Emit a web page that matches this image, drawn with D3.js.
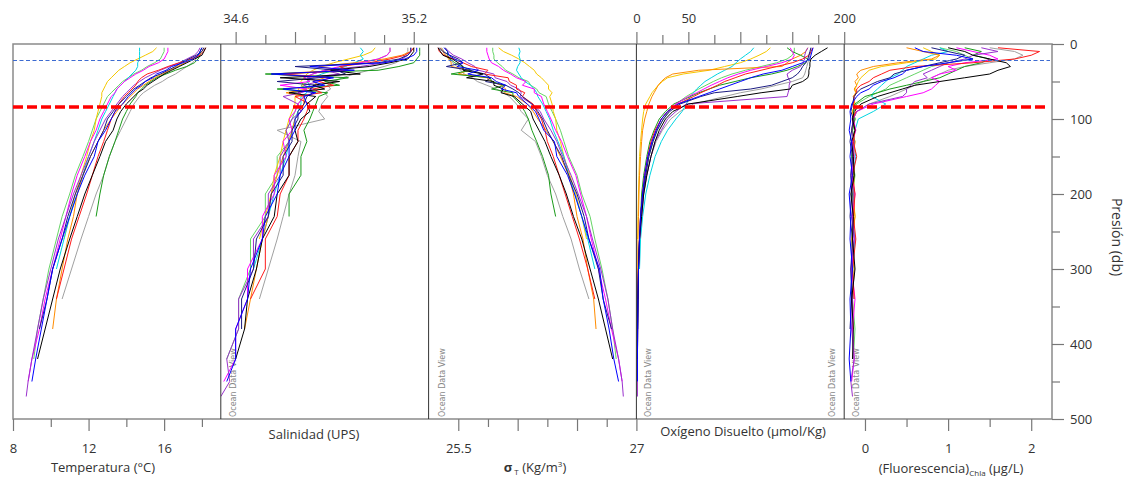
<!DOCTYPE html>
<html><head><meta charset="utf-8">
<script src="https://cdn.jsdelivr.net/npm/d3@7"></script>
<style>
body{margin:0;background:#fff;}
svg text{font-family:"Open Sans",sans-serif;fill:#333;}
</style></head><body>
<svg id="chart" width="1129" height="477"></svg>
<script>
// ---------------- DATA ----------------
const pressureLevels = [5,10,15,20,25,30,35,40,45,50,55,60,65,70,80,90,100,115,130,150,175,200,230,260,300,340,380,420,450,470];
const stations = ["black","blue","navy","red","green","magenta","purple","cyan","yellow","gray","lightgreen","orange"];

const temperature = [
 [18.2,18.1,18.0,17.6,17.2,16.8,16.4,16.0,15.7,15.4,15.1,14.9,14.6,14.4,14.0,13.7,13.5,13.3,12.9,12.6,12.2,11.8,11.4,11.0,10.5,10.1,9.7,9.3],
 [18.0,17.9,17.8,17.5,17.0,16.4,16.1,15.6,15.4,15.0,14.8,14.5,14.3,14.1,13.8,13.4,13.2,12.9,12.5,12.3,11.8,11.4,11.0,10.6,10.1,9.8,9.5,9.2,9.0],
 [18.1,18.0,17.7,17.3,16.9,16.6,16.2,15.8,15.3,15.0,14.7,14.4,14.2,14.0,13.6,13.3,13.0,12.8,12.5,12.1,11.7,11.3,10.9,10.6,10.1,9.8,9.4],
 [18.2,18.1,17.9,17.4,16.8,16.2,15.7,15.1,14.8,14.6,14.5,14.3,14.1,13.9,13.6,13.4,13.2,13.0,12.8,12.5,12.2,11.9,11.5,11.1,10.7,10.3],
 [18.0,17.9,17.9,17.8,17.6,17.2,16.6,16.1,15.6,15.3,15.0,14.8,14.6,14.5,14.2,14.0,13.8,13.6,13.4,13.1,12.8,12.6,12.4],
 [16.2,16.2,16.1,16.0,15.7,15.2,14.9,14.5,14.2,13.9,13.7,13.5,13.4,13.2,13.0,12.8,12.6,12.4,12.1,11.8,11.4,11.1,10.8,10.5,10.1,9.7,9.4,9.0,8.8],
 [17.9,17.8,17.6,17.2,16.8,16.3,15.8,15.4,15.0,14.7,14.4,14.2,14.0,13.8,13.5,13.2,12.9,12.6,12.3,12.0,11.6,11.2,10.8,10.4,10.0,9.6,9.3,9.0,8.8,8.7],
 [14.7,14.7,14.7,14.7,14.6,14.6,14.5,14.3,14.1,13.9,13.7,13.5,13.4,13.3,13.1,12.9,12.7,12.5,12.3,12.0,11.7,11.4,11.0,10.7,10.3],
 [15.6,15.4,15.0,14.6,14.2,13.9,13.6,13.4,13.2,13.0,12.9,12.8,12.7,12.7,12.6,12.5,12.4,12.3,12.1,11.9,11.6,11.3,11.0,10.7],
 [18.0,17.9,17.8,17.7,17.5,17.2,16.9,16.6,16.2,15.9,15.5,15.2,14.9,14.7,14.4,14.2,14.0,13.7,13.4,13.1,12.8,12.4,12.0,11.6,11.1,10.6],
 [16.0,16.0,15.9,15.8,15.5,15.1,14.8,14.4,14.1,13.8,13.6,13.4,13.2,13.0,12.8,12.6,12.4,12.2,12.0,11.7,11.3,11.0,10.6,10.3,9.9,9.6,9.3,9.1],
 [18.1,18.0,17.8,17.5,17.1,16.7,16.3,15.9,15.5,15.2,14.9,14.6,14.4,14.2,13.8,13.5,13.2,12.8,12.5,12.1,11.7,11.4,11.2,10.9,10.6,10.3,10.1]
];
const salinity = [
 [35.20,35.20,35.19,35.18,35.12,35.05,34.92,35.02,34.75,34.95,34.86,34.90,34.78,34.87,34.84,34.85,34.82,34.80,34.81,34.78,34.78,34.74,34.73,34.69,34.67,34.64,34.63,34.60],
 [35.21,35.21,35.20,35.17,35.10,34.85,35.00,34.72,34.93,34.86,34.90,34.76,34.87,34.83,34.84,34.82,34.80,34.80,34.78,34.78,34.75,34.74,34.70,34.69,34.65,34.64,34.60,34.60,34.57],
 [35.19,35.19,35.18,35.15,35.08,34.80,34.94,34.97,34.88,34.74,34.87,34.85,34.86,34.84,34.83,34.81,34.81,34.79,34.79,34.76,34.76,34.72,34.71,34.67,34.66,34.62,34.62],
 [35.20,35.19,35.17,35.12,35.05,34.95,34.98,34.76,34.92,34.88,34.93,34.86,34.89,34.80,34.85,34.84,34.83,34.81,34.81,34.78,34.78,34.75,34.74,34.70,34.70,34.65],
 [35.22,35.22,35.22,35.21,35.20,35.15,35.08,34.70,34.98,34.90,34.95,34.74,34.91,34.88,34.87,34.86,34.85,34.83,34.84,34.82,34.82,34.78,34.78],
 [35.12,35.12,35.11,35.08,35.02,34.95,34.90,34.86,34.83,34.85,34.75,34.84,34.81,34.83,34.81,34.80,34.78,34.79,34.76,34.77,34.73,34.73,34.69,34.69,34.64,34.64,34.60,34.60,34.56],
 [35.19,35.19,35.18,35.16,35.10,35.02,34.90,34.95,34.84,34.88,34.83,34.86,34.82,34.76,34.81,34.82,34.79,34.77,34.78,34.75,34.75,34.71,34.71,34.66,34.66,34.61,34.61,34.57,34.58,34.55],
 [35.02,35.03,35.02,35.03,35.00,34.97,34.93,34.89,34.86,34.84,34.85,34.83,34.84,34.82,34.82,34.81,34.80,34.79,34.78,34.77,34.75,34.73,34.71,34.69,34.66],
 [35.07,35.06,35.03,34.98,34.93,34.89,34.86,34.84,34.83,34.82,34.83,34.81,34.82,34.80,34.80,34.79,34.78,34.77,34.76,34.75,34.73,34.72,34.70,34.68],
 [35.18,35.18,35.17,35.16,35.14,35.10,35.05,35.00,34.96,34.93,34.91,34.92,34.90,34.91,34.89,34.88,34.90,34.74,34.82,34.81,34.80,34.78,34.76,34.74,34.71,34.68],
 [35.12,35.12,35.11,35.08,35.02,34.96,34.90,34.86,34.83,34.85,34.82,34.84,34.81,34.83,34.81,34.80,34.79,34.77,34.78,34.74,34.74,34.70,34.70,34.65,34.65,34.61,34.61,34.57],
 [35.20,35.19,35.16,35.10,35.00,34.88,34.96,34.72,34.90,34.86,34.88,34.84,34.77,34.83,34.83,34.82,34.80,34.79,34.78,34.76,34.74,34.72,34.71,34.69,34.67,34.65,34.63]
];
const sigmaT = [
 [25.33,25.35,25.37,25.45,25.50,25.54,25.54,25.71,25.57,25.80,25.80,25.88,25.86,25.97,26.04,26.11,26.13,26.18,26.23,26.28,26.35,26.41,26.47,26.54,26.61,26.68,26.74,26.80],
 [25.38,25.41,25.42,25.47,25.54,25.49,25.67,25.58,25.78,25.82,25.90,25.86,25.99,26.01,26.08,26.15,26.18,26.22,26.31,26.33,26.42,26.48,26.54,26.60,26.69,26.72,26.77,26.81,26.85],
 [25.34,25.37,25.43,25.50,25.54,25.40,25.60,25.72,25.77,25.73,25.90,25.96,26.01,26.04,26.12,26.17,26.21,26.25,26.30,26.37,26.43,26.50,26.56,26.60,26.68,26.72,26.79],
 [25.33,25.34,25.38,25.46,25.54,25.61,25.75,25.72,25.92,25.93,25.99,25.99,26.06,26.04,26.13,26.16,26.20,26.23,26.25,26.30,26.35,26.40,26.46,26.52,26.59,26.65],
 [25.39,25.41,25.41,25.43,25.47,25.53,25.61,25.44,25.77,25.78,25.89,25.78,25.96,25.96,26.02,26.06,26.09,26.12,26.16,26.21,26.26,26.28,26.32],
 [25.74,25.74,25.75,25.76,25.78,25.84,25.88,25.94,25.99,26.07,26.04,26.14,26.14,26.20,26.22,26.25,26.28,26.32,26.37,26.42,26.49,26.53,26.58,26.62,26.68,26.74,26.79,26.85,26.88],
 [25.39,25.42,25.46,25.53,25.58,25.64,25.67,25.80,25.81,25.91,25.94,26.01,26.03,26.02,26.12,26.19,26.22,26.28,26.33,26.38,26.45,26.51,26.58,26.63,26.70,26.76,26.80,26.85,26.88,26.89],
 [26.01,26.02,26.01,26.02,26.02,26.00,25.99,26.01,26.03,26.06,26.11,26.14,26.16,26.17,26.21,26.24,26.27,26.30,26.34,26.39,26.43,26.48,26.54,26.59,26.65],
 [25.84,25.88,25.95,26.01,26.06,26.10,26.14,26.16,26.20,26.23,26.26,26.26,26.29,26.27,26.29,26.30,26.32,26.33,26.36,26.39,26.44,26.49,26.54,26.58],
 [25.36,25.38,25.40,25.42,25.45,25.49,25.52,25.55,25.62,25.66,25.74,25.82,25.88,25.93,25.99,26.03,26.09,26.03,26.15,26.20,26.25,26.32,26.38,26.45,26.52,26.60],
 [25.79,25.79,25.80,25.80,25.83,25.87,25.90,25.96,26.01,26.09,26.11,26.16,26.18,26.24,26.26,26.29,26.32,26.36,26.39,26.43,26.50,26.54,26.61,26.65,26.71,26.76,26.80,26.83],
 [25.35,25.37,25.39,25.42,25.44,25.44,25.59,25.50,25.74,25.78,25.86,25.90,25.89,25.99,26.08,26.13,26.17,26.24,26.30,26.36,26.43,26.47,26.50,26.55,26.59,26.64,26.66]
];
const oxygen = [
 [184,178,172,168,167,167,166,166,165,160,150,148,120,97,50,35,28,22,18,14,10,7,5,3,2,1.5,1.2,1],
 [170,169,168,167,160,150,140,122,110,100,90,80,70,60,40,30,24,19,15,11,8,6,4,3,2,1.5,1.2,1,1],
 [168,167,166,165,163,160,158,155,150,140,130,110,75,62,42,32,26,20,16,12,9,6,4,3,2,1.5,1.2],
 [170,168,166,160,150,135,120,105,95,85,78,70,62,55,40,30,24,18,14,11,8,6,4,3,2,1.5],
 [145,150,158,165,163,155,145,130,110,95,80,70,60,52,36,28,22,17,13,10,7,5,4],
 [148,150,152,150,140,125,110,98,88,80,72,65,58,50,38,30,24,19,15,11,8,6,4,3,2,1.5,1.2,1,1],
 [165,163,162,162,160,158,150,145,146,148,147,147,146,145,48,38,30,24,18,14,10,7,5,3,2,1.5,1.2,1,1,1],
 [113,110,105,100,96,92,85,78,72,66,62,58,55,52,48,44,38,30,24,18,13,9,6,4,3],
 [129,125,118,110,100,85,70,45,30,25,21,18,15,13,9,7,6,5,4,3,2.5,2,1.5,1.2],
 [168,168,167,166,165,164,163,162,160,150,135,120,100,85,55,42,33,25,19,14,10,7,5,3,2,1.5],
 [152,152,150,145,135,120,105,92,82,74,67,60,54,48,38,31,26,20,16,12,9,6,4,3,2,1.5,1.2,1],
 [165,163,158,150,145,140,60,35,28,24,21,19,17,15,12,10,8,6,5,4,3,2.5,2,1.5,1.2,1,1]
];
const fluorescence = [
 [1.0,1.2,1.3,1.5,1.7,1.75,1.6,1.5,1.2,0.9,0.6,0.45,0.3,0.15,-0.05,-0.13,-0.15,-0.12,-0.16,-0.14,-0.13,-0.17,-0.14,-0.15,-0.12,-0.16,-0.14,-0.15],
 [0.6,0.7,1.1,1.3,1.0,0.7,0.5,0.45,0.35,0.2,0.1,0.05,-0.05,-0.1,-0.16,-0.18,-0.17,-0.19,-0.16,-0.18,-0.15,-0.19,-0.17,-0.18,-0.15,-0.18,-0.17,-0.19,-0.17],
 [0.8,1.0,1.2,1.1,0.9,0.7,0.5,0.35,0.3,0.15,0.05,-0.05,-0.1,-0.13,-0.15,-0.17,-0.14,-0.16,-0.18,-0.15,-0.17,-0.16,-0.18,-0.15,-0.17,-0.16,-0.18],
 [1.6,2.1,2.0,1.8,1.3,0.6,0.3,0.2,0.1,0.05,-0.05,-0.1,-0.1,-0.13,-0.14,-0.11,-0.15,-0.12,-0.14,-0.1,-0.15,-0.12,-0.14,-0.11,-0.15,-0.13],
 [1.2,1.4,1.3,1.5,1.4,1.2,1.1,1.0,0.9,0.7,0.5,0.3,0.15,0.0,-0.12,-0.14,-0.12,-0.15,-0.13,-0.16,-0.13,-0.15,-0.14],
 [1.1,1.3,1.5,1.6,1.2,1.0,1.1,0.9,0.8,0.9,0.85,0.8,0.7,0.5,0.1,-0.1,-0.14,-0.11,-0.15,-0.13,-0.16,-0.12,-0.15,-0.13,-0.16,-0.12,-0.15,-0.13,-0.16],
 [1.4,1.6,1.3,1.2,1.0,0.9,0.8,0.7,0.75,0.6,0.55,0.5,0.5,0.45,0.05,-0.1,-0.14,-0.16,-0.13,-0.15,-0.17,-0.14,-0.16,-0.13,-0.17,-0.15,-0.16,-0.13,-0.17,-0.15],
 [0.9,1.0,0.8,0.7,0.6,0.5,0.45,0.4,0.3,0.25,0.2,0.15,0.1,0.08,0.25,0.1,-0.08,-0.12,-0.14,-0.11,-0.15,-0.13,-0.16,-0.12,-0.15],
 [0.7,0.8,0.9,0.85,0.5,0.2,0.05,0.0,-0.05,-0.08,-0.1,-0.12,-0.11,-0.14,-0.12,-0.15,-0.13,-0.16,-0.12,-0.15,-0.13,-0.14,-0.12,-0.15],
 [1.5,1.8,1.9,1.8,1.5,1.2,1.0,0.9,0.8,0.7,0.6,0.5,0.4,0.3,0.05,-0.1,-0.14,-0.12,-0.15,-0.13,-0.16,-0.13,-0.15,-0.12,-0.16,-0.14],
 [0.9,1.1,1.2,1.3,1.0,0.8,0.7,0.6,0.5,0.4,0.3,0.25,0.15,0.05,-0.1,-0.14,-0.12,-0.15,-0.13,-0.16,-0.12,-0.15,-0.14,-0.16,-0.13,-0.15,-0.12,-0.14],
 [0.5,0.7,0.9,0.8,0.4,0.1,-0.05,-0.1,-0.08,-0.12,-0.1,-0.13,-0.11,-0.14,-0.12,-0.15,-0.13,-0.16,-0.12,-0.14,-0.13,-0.15,-0.12,-0.16,-0.13,-0.15,-0.14]
];

// axis domains & ticks
const tempDomain = [8, 19];
const salDomain = [34.55, 35.25];
const sigmaDomain = [25.25, 27.0];
const oxyDomain = [0, 200];
const fluorDomain = [-0.25, 2.25];
const pressureDomain = [0, 500];

const tempMajor = [8,12,16], tempMinor = [10,14,18], tempLabels = [8,12,16];
const salMajor = [34.6,34.8,35.0,35.2], salMinor = [34.7,34.9,35.1], salLabels = [34.6,35.2];
const sigmaMajor = [25.5,26.0,26.5,27.0], sigmaMinor = [25.75,26.25,26.75], sigmaLabels = [25.5,27];
const oxyMajor = [0,50,100,150,200], oxyMinor = [25,75,125,175], oxyLabels = [0,50,200];
const fluorMajor = [0,1,2], fluorMinor = [0.5,1.5], fluorLabels = [0,1,2];
const presMajor = [0,100,200,300,400,500], presMinor = [50,150,250,350,450];

const mixedLayerDepth = 22;   // blue dashed
const oxyclineDepth = 84;     // red dashed

// ---------------- STYLE ----------------
const stationColors = ["#000000","#0000ff","#1c1c80","#ff1a1a","#1a9a1a","#ff00ff","#9a32cd","#00d5e0","#f5c800","#a0a0a0","#66d466","#ff8c00"];
const drawOrder = [9,10,8,7,11,4,5,6,3,2,0,1];

const svg = d3.select("#chart");
const X0 = 13, X1 = 1052, Y0 = 44, Y1 = 419;
const pw = (X1 - X0) / 5;
const edges = d3.range(6).map(i => X0 + i * pw);
const y = d3.scaleLinear().domain(pressureDomain).range([Y0, Y1]);

const panels = [
  {vals: temperature, dom: tempDomain},
  {vals: salinity, dom: salDomain},
  {vals: sigmaT, dom: sigmaDomain},
  {vals: oxygen, dom: oxyDomain},
  {vals: fluorescence, dom: fluorDomain}
];
panels.forEach((p, i) => { p.x = d3.scaleLinear().domain(p.dom).range([edges[i], edges[i+1]]); });

const defs = svg.append("defs");
panels.forEach((p, i) => {
  defs.append("clipPath").attr("id", "clip" + i).append("rect")
    .attr("x", edges[i]).attr("y", Y0).attr("width", pw).attr("height", Y1 - Y0);
});

// watermarks
const wm = [edges[1]+15, edges[2]+16, edges[3]+15, edges[4]-9, edges[4]+15];
wm.forEach(wx => {
  svg.append("text").attr("x", wx).attr("y", 417)
    .attr("transform", `rotate(-90,${wx},417)`)
    .style("font-size", "8px").style("fill", "#888")
    .style("font-family", "'DejaVu Sans',sans-serif")
    .text("Ocean Data View");
});

// profiles
panels.forEach((p, i) => {
  const g = svg.append("g").attr("clip-path", `url(#clip${i})`);
  const line = d3.line().x(v => p.x(v)).y((v, j) => y(pressureLevels[j]));
  drawOrder.forEach(s => {
    g.append("path").datum(p.vals[s]).attr("d", line)
      .attr("fill", "none").attr("stroke", stationColors[s])
      .attr("stroke-width", 1).attr("stroke-linejoin", "round");
  });
});

// frame
svg.append("rect").attr("x", X0).attr("y", Y0).attr("width", X1 - X0).attr("height", Y1 - Y0)
  .attr("fill", "none").attr("stroke", "#8a8a8a").attr("stroke-width", 1.5);
edges.slice(1, 5).forEach(ex => {
  svg.append("line").attr("x1", ex).attr("x2", ex).attr("y1", Y0).attr("y2", Y1)
    .attr("stroke", "#333").attr("stroke-width", 1);
});

// horizontal reference lines
svg.append("line").attr("x1", X0).attr("x2", X1 - 2)
  .attr("y1", y(mixedLayerDepth)).attr("y2", y(mixedLayerDepth))
  .attr("stroke", "#3d6bd1").attr("stroke-width", 1.2).attr("stroke-dasharray", "4,2.5");
svg.append("line").attr("x1", X0).attr("x2", X1 - 5)
  .attr("y1", y(oxyclineDepth)).attr("y2", y(oxyclineDepth))
  .attr("stroke", "#ff0000").attr("stroke-width", 3.5).attr("stroke-dasharray", "10,4");

// axes
function isLabel(arr, d) { return arr.some(v => Math.abs(v - d) < 1e-9); }
function styleAxis(g) {
  g.select(".domain").remove();
  g.selectAll(".tick line").attr("stroke", "#777").attr("stroke-width", 1.2);
  g.selectAll(".tick text").style("font-size", "13px").style("fill", "#333")
    .style("font-family", "'Open Sans',sans-serif");
}
function bottomAxis(x, major, minor, labels) {
  svg.append("g").attr("transform", `translate(0,${Y1})`)
    .call(d3.axisBottom(x).tickValues(major).tickSize(12).tickPadding(13)
      .tickFormat(d => isLabel(labels, d) ? d3.format("")(d) : ""))
    .call(styleAxis);
  svg.append("g").attr("transform", `translate(0,${Y1})`)
    .call(d3.axisBottom(x).tickValues(minor).tickSize(8).tickFormat(""))
    .call(styleAxis);
}
function topAxis(x, major, minor, labels) {
  svg.append("g").attr("transform", `translate(0,${Y0})`)
    .call(d3.axisTop(x).tickValues(major).tickSize(12).tickPadding(9)
      .tickFormat(d => isLabel(labels, d) ? d3.format("")(d) : ""))
    .call(styleAxis);
  svg.append("g").attr("transform", `translate(0,${Y0})`)
    .call(d3.axisTop(x).tickValues(minor).tickSize(9).tickFormat(""))
    .call(styleAxis);
}
bottomAxis(panels[0].x, tempMajor, tempMinor, tempLabels);
topAxis(panels[1].x, salMajor, salMinor, salLabels);
bottomAxis(panels[2].x, sigmaMajor, sigmaMinor, sigmaLabels);
topAxis(panels[3].x, oxyMajor, oxyMinor, oxyLabels);
bottomAxis(panels[4].x, fluorMajor, fluorMinor, fluorLabels);

svg.append("g").attr("transform", `translate(${X1},0)`)
  .call(d3.axisRight(y).tickValues(presMajor).tickSize(12).tickPadding(6))
  .call(styleAxis);
svg.append("g").attr("transform", `translate(${X1},0)`)
  .call(d3.axisRight(y).tickValues(presMinor).tickSize(8).tickFormat(""))
  .call(styleAxis);

// axis titles
const tt = (x, yy, txt) => svg.append("text").attr("x", x).attr("y", yy)
  .attr("text-anchor", "middle").style("font-size", "13px").text(txt);
tt(103, 472, "Temperatura (°C)");
tt(314, 439, "Salinidad (UPS)");
tt(743, 436, "Oxígeno Disuelto (µmol/Kg)");

const sg = svg.append("text").attr("x", 535).attr("y", 472).attr("text-anchor", "middle").style("font-size", "13px");
sg.append("tspan").style("font-weight", "bold").text("σ");
sg.append("tspan").attr("dy", 3).style("font-size", "8px").text(" T");
sg.append("tspan").attr("dy", -3).text(" (Kg/m");
sg.append("tspan").attr("dy", -5).style("font-size", "8px").text("3");
sg.append("tspan").attr("dy", 5).text(")");

const fl = svg.append("text").attr("x", 951).attr("y", 473).attr("text-anchor", "middle").style("font-size", "13px");
fl.append("tspan").text("(Fluorescencia)");
fl.append("tspan").attr("dy", 3).style("font-size", "8px").text("Chla");
fl.append("tspan").attr("dy", -3).text(" (µg/L)");

svg.append("text").attr("x", 1112).attr("y", 237)
  .attr("transform", "rotate(90,1112,237)").attr("text-anchor", "middle")
  .style("font-size", "14px").text("Presión (db)");
</script>
</body></html>
